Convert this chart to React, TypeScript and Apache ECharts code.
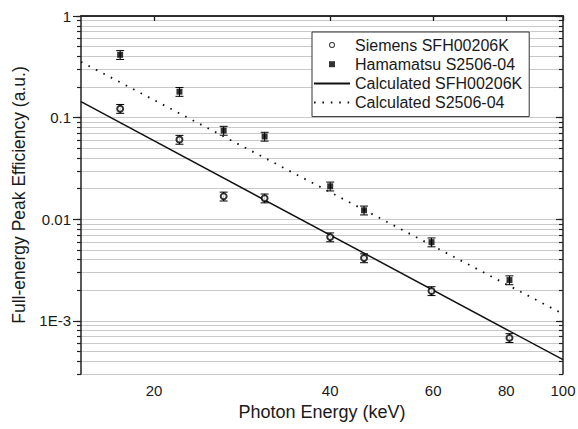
import React, { useEffect, useRef } from 'react';
import * as echarts from 'echarts';

const energies = [17.5, 22.1, 26.3, 30.9, 40, 45.7, 59.6, 81];
const siemens = [0.1225, 0.0608, 0.0168, 0.0161, 0.00667, 0.00415, 0.00197, 0.00068];
const hamamatsu = [0.415, 0.18, 0.0746, 0.0652, 0.0211, 0.01225, 0.00595, 0.00252];
// relative uncertainties
const siemensErr = [0.1, 0.1, 0.1, 0.1, 0.1, 0.1, 0.1, 0.1];
const hamamatsuErr = [0.1, 0.1, 0.1, 0.1, 0.1, 0.1, 0.1, 0.1];

// Calculated power-law curves (end points)
const calcEnergies = [15, 100];
const calcSiemens = [0.1435, 0.000415];
const calcHamamatsu = [0.354, 0.00117];

// Axes
const xRange = [15, 100];
const yRange = [0.0003, 1];
const xTicks = [20, 40, 60, 80, 100];
const yMajorTicks = [0.001, 0.01, 0.1, 1];
const yMajorLabels = ['1E-3', '0.01', '0.1', '1'];
const yMinorMultipliers = [1, 2, 3, 4, 5, 6, 7, 8, 9];
const yDecades = [0.0001, 0.001, 0.01, 0.1, 1];

const names = ['Siemens SFH00206K', 'Hamamatsu S2506-04', 'Calculated SFH00206K', 'Calculated S2506-04'];

const lg = (v: number) => Math.log10(v);

export default function App() {
  const ref = useRef<HTMLDivElement>(null);
  useEffect(() => {
    if (!ref.current) return;
    const chart = echarts.init(ref.current, null, { renderer: 'svg' });
    const font = "'Liberation Sans', Arial, sans-serif";
    const txt = '#1a1a1a';
    const axisCol = '#222';

    const xMin = lg(xRange[0]);
    const xMax = lg(xRange[1]);
    const yMin = lg(yRange[0]);
    const yMax = lg(yRange[1]);

    const yGrid: number[] = [];
    yDecades.forEach((d) => yMinorMultipliers.forEach((m) => {
      const v = lg(d * m);
      if (v >= yMin - 1e-9 && v <= yMax + 1e-9) yGrid.push(v);
    }));
    const xTickLogs = xTicks.map(lg);
    const yMajLogs = yMajorTicks.map(lg);

    const yLabelFmt = (v: number) => {
      const i = yMajLogs.findIndex((t) => Math.abs(t - v) < 1e-6);
      return i >= 0 ? yMajorLabels[i] : '';
    };

    const errData = (vals: number[], errs: number[]) =>
      energies.map((e, i) => [lg(e), lg(vals[i] * (1 - errs[i])), lg(vals[i] * (1 + errs[i]))]);

    const errRender = (params: any, api: any) => {
      const x = api.value(0);
      const p1 = api.coord([x, api.value(1)]);
      const p2 = api.coord([x, api.value(2)]);
      const w = 4;
      const st = { stroke: '#000', lineWidth: 1 };
      return {
        type: 'group',
        children: [
          { type: 'line', shape: { x1: p1[0], y1: p1[1], x2: p2[0], y2: p2[1] }, style: st },
          { type: 'line', shape: { x1: p1[0] - w, y1: p1[1], x2: p1[0] + w, y2: p1[1] }, style: st },
          { type: 'line', shape: { x1: p2[0] - w, y1: p2[1], x2: p2[0] + w, y2: p2[1] }, style: st },
        ],
      };
    };

    const baseX = { type: 'value', min: xMin, max: xMax, splitLine: { show: false } };
    const baseY = { type: 'value', min: yMin, max: yMax };
    const hiddenSymbol = { color: 'rgba(0,0,0,0)', borderWidth: 0, borderColor: 'rgba(0,0,0,0)' };
    const ringIcon = 'path://M6,0A6,6 0 1,1 6,12A6,6 0 1,1 6,0Z M6,2A4,4 0 1,0 6,10A4,4 0 1,0 6,2Z';

    chart.setOption({
      animation: false,
      backgroundColor: '#fff',
      textStyle: { fontFamily: font },
      grid: { left: 81, right: 15, top: 16, bottom: 55, containLabel: false, outerBoundsMode: 'none' },
      legend: {
        data: [
          { name: names[0], icon: ringIcon, itemStyle: { color: '#000', borderWidth: 0 } },
          { name: names[1], icon: 'path://M0,0H10V10H0Z', itemStyle: { color: '#000', borderWidth: 0 } },
          { name: names[2], itemStyle: hiddenSymbol },
          { name: names[3], itemStyle: hiddenSymbol },
        ],
        orient: 'vertical',
        left: 312,
        top: 32,
        padding: [5, 7, 6, 1],
        itemWidth: 36,
        itemHeight: 6,
        itemGap: 3.2,
        symbolKeepAspect: true,
        borderColor: '#333',
        borderWidth: 1,
        backgroundColor: '#fff',
        textStyle: { fontSize: 16, color: txt, fontFamily: font },
      },
      xAxis: [
        {
          ...baseX,
          position: 'bottom',
          name: 'Photon Energy (keV)',
          nameLocation: 'middle',
          nameGap: 21,
          nameTextStyle: { fontSize: 18, color: txt, fontFamily: font },
          axisLine: { show: true, lineStyle: { color: axisCol, width: 1.5 } },
          axisTick: { show: true, customValues: xTickLogs, length: 5, inside: false, lineStyle: { color: axisCol, width: 1.2 } },
          axisLabel: {
            show: true,
            customValues: xTickLogs,
            formatter: (v: number) => String(Math.round(Math.pow(10, v))),
            fontSize: 15,
            color: txt,
            margin: 9,
            fontFamily: font,
          },
        },
        {
          ...baseX,
          position: 'top',
          axisLine: { show: true, lineStyle: { color: axisCol, width: 1.5 } },
          axisTick: { show: true, customValues: xTickLogs, length: 4, inside: true, lineStyle: { color: axisCol, width: 1.2 } },
          axisLabel: { show: false },
        },
      ],
      yAxis: [
        {
          ...baseY,
          position: 'left',
          name: 'Full-energy Peak Efficiency (a.u.)',
          nameLocation: 'middle',
          nameGap: 52,
          nameTextStyle: { fontSize: 17.5, color: txt, fontFamily: font },
          axisLine: { show: true, lineStyle: { color: axisCol, width: 1.5 } },
          axisTick: { show: true, customValues: yMajLogs, length: 8, inside: false, lineStyle: { color: axisCol, width: 1.2 } },
          axisLabel: {
            show: true,
            customValues: yMajLogs,
            formatter: yLabelFmt,
            fontSize: 15,
            color: txt,
            margin: 10,
            fontFamily: font,
          },
          splitLine: { show: false },
        },
        {
          ...baseY,
          position: 'left',
          axisLine: { show: false },
          axisTick: { show: true, customValues: yGrid, length: 4, inside: false, lineStyle: { color: axisCol, width: 1.2 } },
          axisLabel: { show: false },
          splitLine: { show: true, lineStyle: { color: '#c9c9c9', width: 1 } },
        },
        {
          ...baseY,
          position: 'right',
          axisLine: { show: true, lineStyle: { color: axisCol, width: 1.5 } },
          axisTick: { show: true, customValues: yMajLogs, length: 7, inside: true, lineStyle: { color: axisCol, width: 1.2 } },
          axisLabel: { show: false },
          splitLine: { show: false },
        },
        {
          ...baseY,
          position: 'right',
          axisLine: { show: false },
          axisTick: { show: true, customValues: yGrid, length: 4, inside: true, lineStyle: { color: axisCol, width: 1.2 } },
          axisLabel: { show: false },
          splitLine: { show: false },
        },
      ],
      series: [
        {
          type: 'custom',
          name: 'errS',
          renderItem: errRender,
          encode: { x: 0, y: [1, 2] },
          data: errData(siemens, siemensErr),
          z: 3,
          silent: true,
        },
        {
          type: 'custom',
          name: 'errH',
          renderItem: errRender,
          encode: { x: 0, y: [1, 2] },
          data: errData(hamamatsu, hamamatsuErr),
          z: 3,
          silent: true,
        },
        {
          type: 'line',
          name: names[2],
          data: calcEnergies.map((e, i) => [lg(e), lg(calcSiemens[i])]),
          symbol: 'none',
          lineStyle: { color: '#111', width: 1.5, type: 'solid' },
          itemStyle: { color: '#111' },
          z: 4,
        },
        {
          type: 'line',
          name: names[3],
          data: calcEnergies.map((e, i) => [lg(e), lg(calcHamamatsu[i])]),
          symbol: 'none',
          lineStyle: { color: '#111', width: 1.8, type: [1.6, 6.8] },
          itemStyle: { color: '#111' },
          z: 4,
        },
        {
          type: 'scatter',
          name: names[0],
          data: energies.map((e, i) => [lg(e), lg(siemens[i])]),
          symbol: 'emptyCircle',
          symbolSize: 6,
          itemStyle: { color: '#000', borderColor: '#000', borderWidth: 1 },
          z: 5,
        },
        {
          type: 'scatter',
          name: names[1],
          data: energies.map((e, i) => [lg(e), lg(hamamatsu[i])]),
          symbol: 'rect',
          symbolSize: 6,
          itemStyle: { color: '#000' },
          z: 5,
        },
      ],
    });
    return () => chart.dispose();
  }, []);
  return <div ref={ref} style={{ position: 'fixed', left: 0, top: 0, width: 578, height: 429 }} />;
}
